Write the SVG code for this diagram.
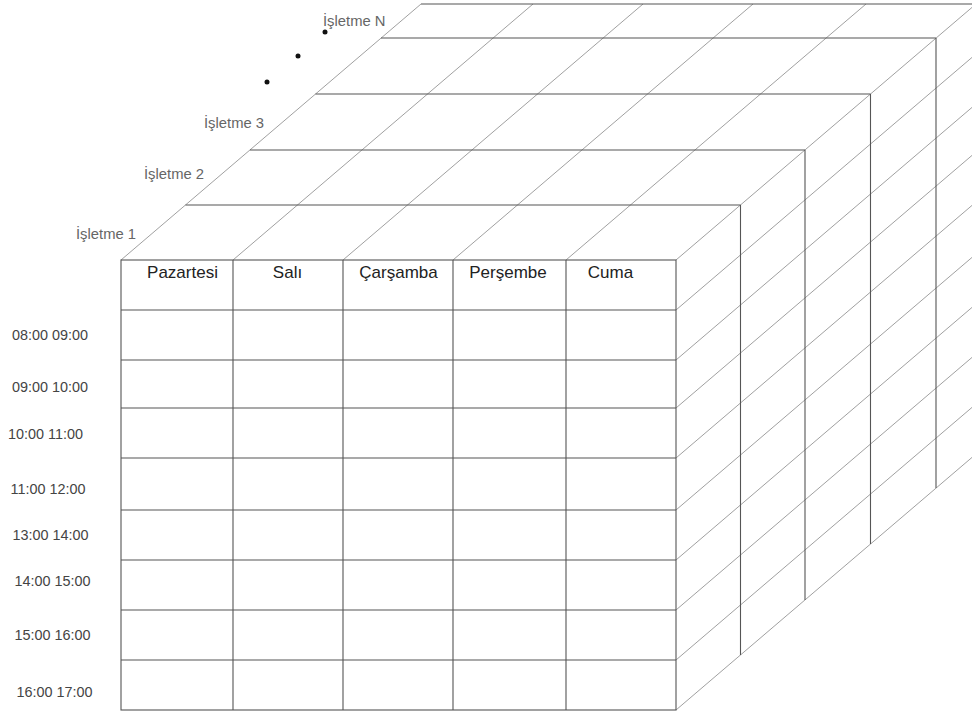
<svg xmlns="http://www.w3.org/2000/svg" width="972" height="715" viewBox="0 0 972 715">
<style>
.main{stroke:#555;stroke-width:1.1;fill:none}
.diag{stroke:#888;stroke-width:0.8;fill:none}
.hdr{font-family:"Liberation Sans",Arial,sans-serif;font-size:17px;fill:#222;text-anchor:middle}
.time{font-family:"Liberation Sans",Arial,sans-serif;font-size:14.4px;fill:#444;text-anchor:middle}
.lay{font-family:"Liberation Sans",Arial,sans-serif;font-size:14.8px;fill:#666}
</style>
<rect width="972" height="715" fill="#fff"/>
<g id="connectors">
<g id="top-diagonals" class="diag">
<line x1="121" y1="260" x2="421" y2="4"/>
<line x1="233" y1="260" x2="533" y2="4"/>
<line x1="343" y1="260" x2="643" y2="4"/>
<line x1="453" y1="260" x2="753" y2="4"/>
<line x1="566" y1="260" x2="866" y2="4"/>
</g>
<g id="side-diagonals" class="diag">
<line x1="676" y1="260" x2="976" y2="4"/>
<line x1="676" y1="310" x2="976" y2="54"/>
<line x1="676" y1="360" x2="976" y2="104"/>
<line x1="676" y1="408" x2="976" y2="152"/>
<line x1="676" y1="458" x2="976" y2="202"/>
<line x1="676" y1="510" x2="976" y2="254"/>
<line x1="676" y1="560" x2="976" y2="304"/>
<line x1="676" y1="610" x2="976" y2="354"/>
<line x1="676" y1="660" x2="976" y2="404"/>
<line x1="676" y1="710" x2="976" y2="454"/>
</g>
<g id="layer-edges" class="main">
<line x1="185.5" y1="205" x2="740.5" y2="205"/>
<line x1="740.5" y1="205" x2="740.5" y2="655"/>
<line x1="250" y1="150" x2="805" y2="150"/>
<line x1="805" y1="150" x2="805" y2="600"/>
<line x1="315.5" y1="94" x2="870.5" y2="94"/>
<line x1="870.5" y1="94" x2="870.5" y2="544"/>
<line x1="381" y1="38" x2="936" y2="38"/>
<line x1="936" y1="38" x2="936" y2="488"/>
<line x1="421" y1="4" x2="976" y2="4"/>
</g>
</g>
<g id="front-table" class="main">
<rect x="121" y="260" width="555" height="450"/>
<line x1="233" y1="260" x2="233" y2="710"/>
<line x1="343" y1="260" x2="343" y2="710"/>
<line x1="453" y1="260" x2="453" y2="710"/>
<line x1="566" y1="260" x2="566" y2="710"/>
<line x1="121" y1="310" x2="676" y2="310"/>
<line x1="121" y1="360" x2="676" y2="360"/>
<line x1="121" y1="408" x2="676" y2="408"/>
<line x1="121" y1="458" x2="676" y2="458"/>
<line x1="121" y1="510" x2="676" y2="510"/>
<line x1="121" y1="560" x2="676" y2="560"/>
<line x1="121" y1="610" x2="676" y2="610"/>
<line x1="121" y1="660" x2="676" y2="660"/>
</g>
<g id="headers">
<text class="hdr" x="182.5" y="278">Pazartesi</text>
<text class="hdr" x="287.5" y="278">Salı</text>
<text class="hdr" x="398.5" y="278">Çarşamba</text>
<text class="hdr" x="508" y="278">Perşembe</text>
<text class="hdr" x="610.5" y="278">Cuma</text>
</g>
<g id="times">
<text class="time" x="50" y="340">08:00 09:00</text>
<text class="time" x="50" y="392">09:00 10:00</text>
<text class="time" x="45.5" y="439">10:00 11:00</text>
<text class="time" x="48" y="494">11:00 12:00</text>
<text class="time" x="50.5" y="540">13:00 14:00</text>
<text class="time" x="52.5" y="586">14:00 15:00</text>
<text class="time" x="52.5" y="640">15:00 16:00</text>
<text class="time" x="54.5" y="697">16:00 17:00</text>
</g>
<g id="layers">
<text class="lay" x="76" y="239">İşletme 1</text>
<text class="lay" x="144" y="179">İşletme 2</text>
<text class="lay" x="204" y="128">İşletme 3</text>
<text class="lay" x="323" y="26">İşletme N</text>
<circle cx="325" cy="32" r="2.5" fill="#111"/>
<circle cx="298" cy="56" r="2.5" fill="#111"/>
<circle cx="267" cy="82" r="2.5" fill="#111"/>
</g>
</svg>
